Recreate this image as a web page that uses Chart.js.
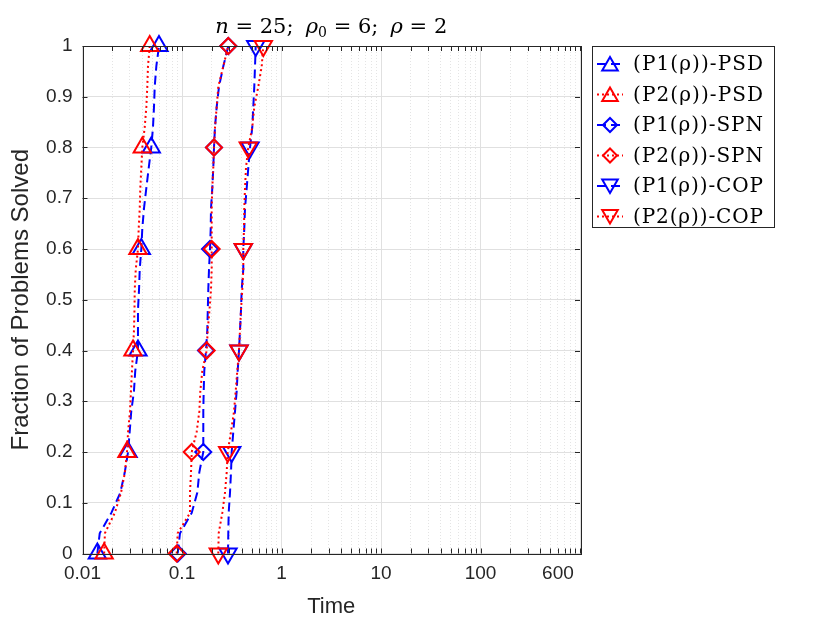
<!DOCTYPE html>
<html>
<head>
<meta charset="utf-8">
<script src="https://cdn.jsdelivr.net/npm/chart.js@4.4.1/dist/chart.umd.min.js"></script>
<style>
html,body{margin:0;padding:0;background:#fff;}
#wrap{width:830px;height:623px;}
</style>
</head>
<body>
<div id="wrap"><canvas id="c" width="830" height="623"></canvas></div>
<script>
// fraction of problems solved (k/25, n = 25)
const frac = [0,0.04,0.08,0.12,0.16,0.2,0.24,0.28,0.32,0.36,0.4,0.44,0.48,0.52,0.56,0.6,0.64,0.68,0.72,0.76,0.8,0.84,0.88,0.92,0.96,1];

// time values
const p1PSD = [0.0141,0.0149,0.0195,0.0240,0.0266,0.0287,0.0298,0.0309,0.0329,0.0339,0.0361,0.0361,0.0361,0.0370,0.0376,0.0390,0.0399,0.0415,0.0438,0.0463,0.0491,0.0511,0.0523,0.0532,0.0552,0.0587];
const p2PSD = [0.0165,0.0168,0.0211,0.0244,0.0267,0.0280,0.0287,0.0300,0.0307,0.0314,0.0322,0.0329,0.0333,0.0335,0.0343,0.0361,0.0367,0.0376,0.0381,0.0390,0.0399,0.0422,0.0438,0.0448,0.0455,0.0474];
const p1SPN = [0.0905,0.0955,0.1252,0.1425,0.1493,0.1637,0.1637,0.1637,0.1652,0.1675,0.1742,0.1796,0.1817,0.1838,0.1868,0.1912,0.1943,0.1956,0.2016,0.2063,0.2097,0.2146,0.2232,0.2354,0.2601,0.2919];
const p2SPN = [0.0885,0.0905,0.1203,0.1203,0.1232,0.1252,0.1405,0.1493,0.1528,0.1600,0.1771,0.1813,0.1890,0.1956,0.1988,0.1988,0.1988,0.1988,0.2016,0.2063,0.2097,0.2146,0.2232,0.2316,0.2601,0.2919];
const p1COP = [0.2899,0.2919,0.2946,0.3037,0.3108,0.3159,0.3278,0.3409,0.3545,0.3629,0.3740,0.3828,0.3917,0.3981,0.4131,0.4131,0.4227,0.4297,0.4469,0.4637,0.4824,0.5087,0.5207,0.5328,0.5416,0.5505];
const p2COP = [0.2316,0.2338,0.2541,0.2705,0.2813,0.2879,0.3108,0.3332,0.3465,0.3596,0.3740,0.3828,0.3917,0.4036,0.4131,0.4131,0.4198,0.4227,0.4297,0.4397,0.4637,0.5087,0.5328,0.5846,0.6324,0.6563];

const seriesNames = ['(P1(ρ))-PSD','(P2(ρ))-PSD','(P1(ρ))-SPN','(P2(ρ))-SPN','(P1(ρ))-COP','(P2(ρ))-COP'];
const xTickLabels = [0.01,0.1,1,10,100,600];
const yTickLabels = [0,0.1,0.2,0.3,0.4,0.5,0.6,0.7,0.8,0.9,1];

const BLUE = '#0000ff', RED = '#ff0000';
const DASH = [9,5], DOT = [2,3];
const markEvery = 5;

function isDecade(v){ const l = Math.log10(v); return Math.abs(l - Math.round(l)) < 1e-9; }

function series(i, vals, color, dash, style, rot, r){
  return {
    label: seriesNames[i],
    data: frac.map((y,k)=>({x: vals[k], y})),
    borderColor: color, backgroundColor: 'rgba(0,0,0,0)',
    borderWidth: 2, borderDash: dash, tension: 0,
    pointStyle: style, rotation: rot,
    pointRadius: c => c.dataIndex % markEvery === 0 ? r : 0,
    pointHoverRadius: 0,
    pointBorderColor: color, pointBackgroundColor: 'rgba(0,0,0,0)', pointBorderWidth: 2,
    clip: false,
    order: color === RED ? 0 : 1,
  };
}

const datasets = [
  series(0, p1PSD, BLUE, DASH, 'triangle', 0, 10),
  series(1, p2PSD, RED, DOT, 'triangle', 0, 10),
  series(2, p1SPN, BLUE, DASH, 'rectRot', 0, 8),
  series(3, p2SPN, RED, DOT, 'rectRot', 0, 8),
  series(4, p1COP, BLUE, DASH, 'triangle', 180, 10),
  series(5, p2COP, RED, DOT, 'triangle', 180, 10),
];

// axes box with inner ticks, like the original figure
const boxPlugin = {
  id: 'box',
  afterDatasetsDraw(chart){
    const {ctx, chartArea: a, scales} = chart;
    ctx.save();
    ctx.strokeStyle = '#262626'; ctx.lineWidth = 1; ctx.setLineDash([]);
    ctx.beginPath();
    scales.x.ticks.forEach(t=>{
      const px = Math.round(scales.x.getPixelForValue(t.value)) + 0.5;
      ctx.moveTo(px, a.bottom); ctx.lineTo(px, a.bottom - 5);
      ctx.moveTo(px, a.top); ctx.lineTo(px, a.top + 5);
    });
    scales.y.ticks.forEach(t=>{
      const py = Math.round(scales.y.getPixelForValue(t.value)) + 0.5;
      ctx.moveTo(a.left, py); ctx.lineTo(a.left + 5, py);
      ctx.moveTo(a.right, py); ctx.lineTo(a.right - 5, py);
    });
    ctx.stroke();
    ctx.strokeRect(Math.round(a.left)+0.5, Math.round(a.top)+0.5, Math.round(a.right-a.left), Math.round(a.bottom-a.top));
    ctx.restore();
  }
};

// title with math italics
const titleParts = [['n','i'],[' = 25; ','r'],['ρ','i'],['0','s'],[' = 6; ','r'],['ρ','i'],[' = 2','r']];
const titlePlugin = {
  id: 'mtitle',
  afterDraw(chart){
    const {ctx, chartArea: a} = chart;
    const fam = '"DejaVu Serif", serif';
    const fontOf = k => k === 'i' ? 'italic 21px ' + fam : (k === 's' ? '14px ' + fam : '21px ' + fam);
    ctx.save();
    let w = 0; const ws = titleParts.map(([t,k])=>{ ctx.font = fontOf(k); const m = ctx.measureText(t).width; w += m; return m; });
    const target = 232, extra = Math.max(0, (target - w) / 2);
    let x = (a.left + a.right) / 2 - (w + extra*2) / 2;
    const base = 33;
    ctx.fillStyle = '#000'; ctx.textBaseline = 'alphabetic'; ctx.textAlign = 'left';
    titleParts.forEach(([t,k],i)=>{
      ctx.font = fontOf(k);
      ctx.fillText(t, x, k === 's' ? base + 4 : base);
      x += ws[i];
      if (i === 1 || i === 4) x += extra;
    });
    ctx.restore();
  }
};

// boxed legend at the top right
const legendPlugin = {
  id: 'mlegend',
  afterDraw(chart){
    const {ctx} = chart;
    const bx = 592.5, by = 46.5, bw = 182, bh = 181;
    ctx.save();
    ctx.fillStyle = '#fff'; ctx.fillRect(bx, by, bw, bh);
    ctx.strokeStyle = '#262626'; ctx.lineWidth = 1; ctx.setLineDash([]);
    ctx.strokeRect(bx, by, bw, bh);
    chart.data.datasets.forEach((ds,i)=>{
      const y = 64 + i * 30.5;
      ctx.strokeStyle = ds.borderColor; ctx.lineWidth = 2; ctx.setLineDash(ds.borderDash);
      ctx.beginPath(); ctx.moveTo(597, y); ctx.lineTo(623, y); ctx.stroke();
      ctx.setLineDash([]);
      ctx.fillStyle = 'rgba(0,0,0,0)';
      const r = ds.pointStyle === 'rectRot' ? 7 : 9;
      Chart.helpers.drawPoint(ctx, {pointStyle: ds.pointStyle, rotation: ds.rotation, radius: r, borderWidth: 2}, 610, y + (ds.pointStyle === 'triangle' ? (ds.rotation ? -2 : 2) : 0));
      ctx.font = '20px "DejaVu Serif", serif';
      ctx.fillStyle = '#000'; ctx.textBaseline = 'middle'; ctx.textAlign = 'left';
      const m = ctx.measureText(ds.label).width;
      if ('letterSpacing' in ctx) ctx.letterSpacing = Math.max(0, (130 - m) / (ds.label.length - 1)) + 'px';
      ctx.fillText(ds.label, 633, y + 1);
      if ('letterSpacing' in ctx) ctx.letterSpacing = '0px';
    });
    ctx.restore();
  }
};

new Chart(document.getElementById('c'), {
  type: 'line',
  data: { datasets },
  options: {
    responsive: false, animation: false, devicePixelRatio: 1,
    layout: { padding: { top: 46, right: 250, left: 0, bottom: 0 } },
    plugins: { legend: { display: false }, title: { display: false }, tooltip: { enabled: false } },
    scales: {
      x: {
        type: 'logarithmic', min: 0.01, max: 1000,
        afterBuildTicks: s => {
          const t = [];
          for (let e = -2; e < 3; e++) for (let m = 1; m < 10; m++) t.push({ value: +(m * Math.pow(10, e)).toPrecision(6) });
          t.push({ value: 1000 });
          s.ticks = t;
        },
        afterFit: s => { s.height = 623 - 553.5; },
        ticks: {
          autoSkip: false, maxRotation: 0, padding: 9, color: '#262626',
          font: { family: '"Liberation Sans", Arial, sans-serif', size: 19 },
          callback: v => { const h = xTickLabels.find(l => Math.abs(l - v) / l < 1e-6); return h === undefined ? '' : String(h); }
        },
        grid: {
          drawTicks: false,
          color: c => (c.tick && isDecade(c.tick.value)) ? '#e0e0e0' : '#e4e4e4',
          lineWidth: 1,
        },
        border: { display: false, dash: c => (c.tick && isDecade(c.tick.value)) ? [] : [1, 2] },
        title: { display: true, text: 'Time', color: '#262626', padding: { top: 0, bottom: 3 },
          font: { family: '"Liberation Sans", Arial, sans-serif', size: 22 } }
      },
      y: {
        min: 0, max: 1,
        afterBuildTicks: s => { s.ticks = yTickLabels.map(v => ({ value: v })); },
        afterFit: s => { s.width = 82.5; },
        ticks: { padding: 10, color: '#262626', font: { family: '"Liberation Sans", Arial, sans-serif', size: 19 },
          callback: v => String(v) },
        grid: { drawTicks: false, color: '#e0e0e0', lineWidth: 1 },
        border: { display: false },
        title: { display: true, text: 'Fraction of Problems Solved', color: '#262626', padding: { top: 7, bottom: 0 },
          font: { family: '"Liberation Sans", Arial, sans-serif', size: 24 } }
      }
    }
  },
  plugins: [boxPlugin, titlePlugin, legendPlugin]
});
</script>
</body>
</html>
